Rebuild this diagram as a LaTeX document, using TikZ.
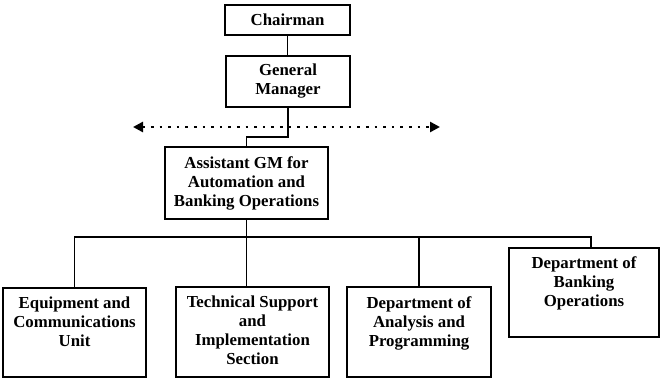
\documentclass[tikz,border=0pt]{standalone}
\usepackage{fontspec}
\setmainfont{Liberation Serif}
\usetikzlibrary{arrows.meta,calc}
\begin{document}
\begin{tikzpicture}[x=1pt,y=-1pt,
  box/.style={draw=black, line width=2pt, rectangle, inner sep=0pt},
  txt/.style={align=center, inner sep=0pt, font=\fontsize{16.8}{19}\selectfont\bfseries},
  conn/.style={draw=black, line width=1.9pt},
  dotarrow/.style={line width=2.6pt, dash pattern=on 2.6pt off 6pt, {Triangle[length=10pt,width=10pt]}-{Triangle[length=10pt,width=10pt]}}
]
\useasboundingbox (0,0) rectangle (663,379);
% top boxes with centred text
\node[box, txt, minimum width=125pt, minimum height=30pt] (ch) at (287.5,20) {Chairman};
\node[box, txt, minimum width=124pt, minimum height=51pt] (gm) at (288,81.5) {General\\Manager};
\node[box, txt, minimum width=163pt, minimum height=72pt] (as) at (246.5,183) {Assistant GM for\\Automation and\\Banking Operations};
% bottom boxes
\node[box, minimum width=143pt, minimum height=89pt] (b1) at (74.5,332.5) {};
\node[box, minimum width=153pt, minimum height=90pt] (b2) at (252.5,332) {};
\node[box, minimum width=144pt, minimum height=90pt] (b3) at (419,332) {};
\node[box, minimum width=150pt, minimum height=89pt] (b4) at (584,292.5) {};
\node[txt, anchor=north] (t1) at ($(b1.north)+(0,10)$) {Equipment and\\Communications\\Unit};
\node[txt, anchor=north] (t2) at ($(b2.north)+(0,10)$) {Technical Support\\and\\Implementation\\Section};
\node[txt, anchor=north] (t3) at ($(b3.north)+(0,10)$) {Department of\\Analysis and\\Programming};
\node[txt, anchor=north] (t4) at ($(b4.north)+(0,9)$) {Department of\\Banking\\Operations};
% connectors
\coordinate (j1) at (246.5,137);
\coordinate (bL) at (74.5,237);
\coordinate (bR) at (591,237);
\coordinate (dl) at (133,127);
\coordinate (dr) at (440,127);
\draw[conn] (ch.south) -- (ch.south |- gm.north);
\draw[conn] (gm.south) |- (j1) -- (as.north);
\draw[conn] (as.south) -- (as.south |- b2.north);
\draw[conn] (b1.north) -- (bL) -- (bR) -- (bR |- b4.north);
\draw[conn] (b3.north) -- (b3.north |- bL);
\draw[dotarrow] (dl) -- (dr);
\end{tikzpicture}
\end{document}
